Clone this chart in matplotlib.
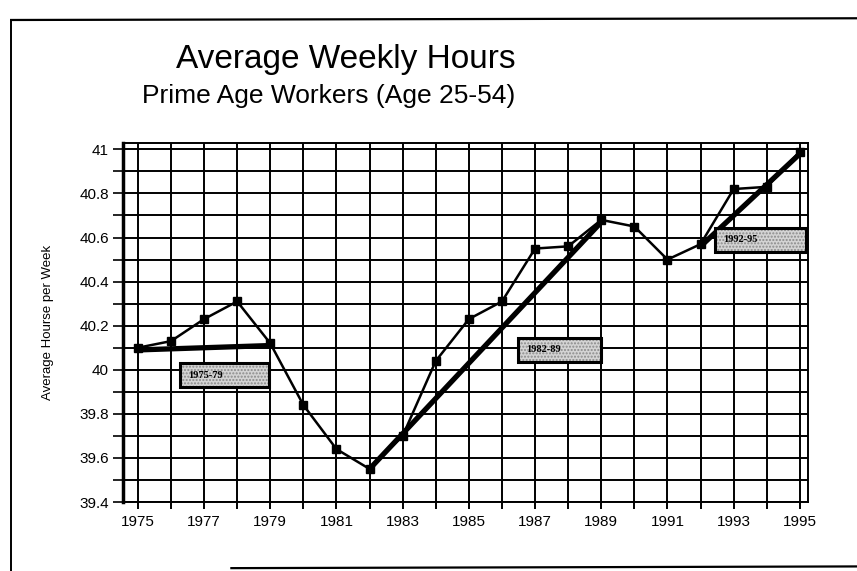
import numpy as np
import matplotlib
matplotlib.use("Agg")
import matplotlib.pyplot as plt
from matplotlib.patches import Rectangle
from matplotlib.lines import Line2D

plt.rcParams['font.family'] = ['Liberation Sans Narrow', 'Liberation Sans', 'DejaVu Sans']

# average weekly hours, prime age workers
years = list(range(1975, 1996))
hours = [40.10, 40.13, 40.23, 40.31, 40.12, 39.84, 39.64, 39.55, 39.70, 40.04,
         40.23, 40.31, 40.55, 40.56, 40.68, 40.65, 40.50, 40.57, 40.82, 40.83, 40.99]

# trend segments (start year, end year, start value, end value)
trend_names = ["1975-79", "1982-89", "1992-95"]
trend_years = [(1975, 1979), (1982, 1989), (1992, 1995)]
trend_vals = [(40.09, 40.11), (39.55, 40.67), (40.56, 40.98)]

# label boxes: left, right, centre value
box_left = [1976.27, 1986.48, 1992.44]
box_right = [1978.95, 1989.0, 1995.2]
box_mid = [39.975, 40.09, 40.59]

fig = plt.figure(figsize=(8.57, 5.71), dpi=100)
ax = fig.add_axes([0.1435, 0.1208, 0.7995, 0.6292])

ax.set_xlim(1974.55, 1995.25)
ax.set_ylim(39.4, 41.03)

# grid on every year and every 0.1 hour
ax.set_xticks(years, minor=True)
ax.set_yticks(np.arange(39.4, 41.01, 0.1), minor=True)
ax.set_xticks(years[::2])
ax.set_xticklabels([str(y) for y in years[::2]])
yt = np.round(np.arange(39.4, 41.01, 0.2), 1)
ax.set_yticks(yt)
ax.set_yticklabels(['{:g}'.format(v) for v in yt])
ax.grid(which='both', color='black', linewidth=1.4)
ax.tick_params(which='both', direction='out', color='black')
ax.tick_params(axis='y', which='both', length=7, width=1.2, labelsize=11, pad=3)
ax.tick_params(axis='x', which='both', length=5, width=1.4, labelsize=11, pad=4)
ax.set_axisbelow(True)
for s in ax.spines.values():
    s.set_linewidth(1.4)
ax.spines['left'].set_linewidth(2.5)

ax.plot(years, hours, color='black', linewidth=1.8, marker='s', markersize=6, zorder=3)

for (y0, y1), (v0, v1) in zip(trend_years, trend_vals):
    ax.plot([y0, y1], [v0, v1], color='black', linewidth=3.8, solid_capstyle='round', zorder=4)

bh = 0.11
for name, x0, x1, yc in zip(trend_names, box_left, box_right, box_mid):
    ax.add_patch(Rectangle((x0, yc - bh / 2), x1 - x0, bh, facecolor='#d4d4d4',
                           edgecolor='#8a8a8a', linewidth=0, hatch='.....', zorder=5))
    ax.add_patch(Rectangle((x0, yc - bh / 2), x1 - x0, bh, facecolor='none',
                           edgecolor='black', linewidth=2.2, zorder=6))
    ax.text(x0 + 0.25, yc, name, ha='left', va='center', fontsize=7.5,
            family=['Liberation Serif', 'DejaVu Serif'], fontweight='bold', zorder=7)

ax.set_ylabel('Average Hourse per Week', fontsize=9.5, family=['Liberation Sans', 'DejaVu Sans'])
ax.yaxis.set_label_coords(-0.1, 0.5)

fig.text(0.404, 0.895, 'Average Weekly Hours', ha='center', va='center', fontsize=24)
fig.text(0.383, 0.832, 'Prime Age Workers (Age 25-54)', ha='center', va='center', fontsize=19)

# page frame
fig.add_artist(Line2D([0.013, 1.0], [0.965, 0.968], color='black', linewidth=1.6))
fig.add_artist(Line2D([0.013, 0.013], [0.965, 0.0], color='black', linewidth=1.4))
fig.add_artist(Line2D([0.27, 1.0], [0.005, 0.008], color='black', linewidth=1.6))

fig.savefig('out.png', dpi=100)
